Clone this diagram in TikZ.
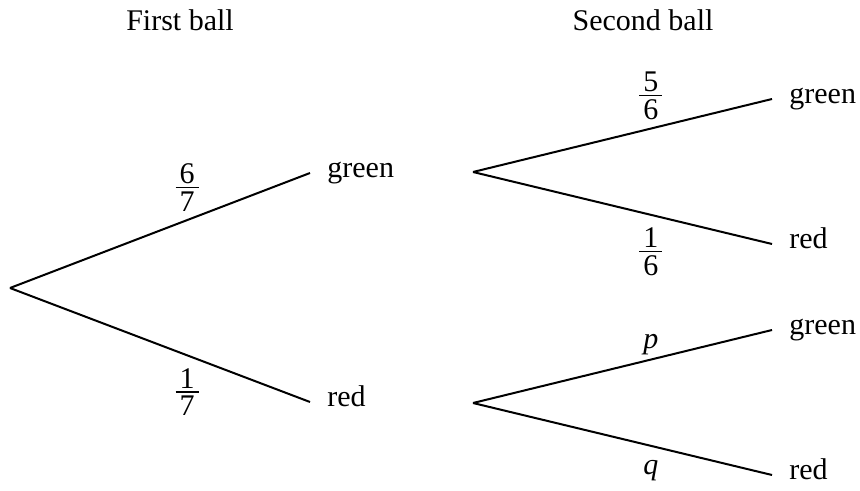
\documentclass[tikz,border=0pt]{standalone}
\usepackage{fontspec}
\setmainfont{Liberation Serif}
\usepackage{tikz}
\newcommand{\ballfrac}[2]{%
    \vbox{\halign{\hfil\kern2pt##\kern2pt\hfil\cr
        #1\cr
        \noalign{\kern1.6pt\hrule height0.8pt\kern1.6pt}
        #2\cr}}}
\tikzset{
    tree/branch/.style={
        draw=black, line width=1pt
    },
    tree/leaf/.style={
        anchor=mid west, inner xsep=8.5pt, inner ysep=2pt
    },
    tree/prob/.style={
        inner sep=4pt
    },
    tree/prob below/.style={
        tree/prob, below, inner sep=6pt
    },
    tree/heading/.style={
        anchor=base, inner sep=0pt
    }
}

\begin{document}
\begin{tikzpicture}[x=0.5pt, y=-0.5pt, font=\fontsize{15}{18}\selectfont]
    \useasboundingbox (0,0) rectangle (860,491);

    \node[tree/heading] (firstball) at (180,31) {First ball};
    \node[tree/heading] (secondball) at (643,31) {Second ball};

    \coordinate (start) at (10,288);
    \node[tree/leaf] (green) at (310,173) {green};
    \node[tree/leaf] (red) at (310,402) {red};
    \coordinate (greensplit) at (473,172);
    \coordinate (redsplit) at (473,403);
    \node[tree/leaf] (greengreen) at (772,99) {green};
    \node[tree/leaf] (greenred) at (772,244) {red};
    \node[tree/leaf] (redgreen) at (772,330) {green};
    \node[tree/leaf] (redred) at (772,475) {red};

    % first ball
    \draw[tree/branch] (start) --
        node[tree/prob, pos=0.59, above] (pgreen) {\ballfrac{6}{7}}
        (green.mid west);
    \draw[tree/branch] (start) --
        node[tree/prob below, pos=0.59] (pred) {\ballfrac{1}{7}}
        (red.mid west);

    % second ball
    \draw[tree/branch] (greensplit) --
        node[tree/prob, pos=0.595, above] (pgreengreen) {\ballfrac{5}{6}}
        (greengreen.mid west);
    \draw[tree/branch] (greensplit) --
        node[tree/prob below, pos=0.595] (pgreenred) {\ballfrac{1}{6}}
        (greenred.mid west);
    \draw[tree/branch] (redsplit) --
        node[tree/prob, pos=0.595, above, inner sep=2pt] (predgreen) {\textit{p}}
        (redgreen.mid west);
    \draw[tree/branch] (redsplit) --
        node[tree/prob below, pos=0.595, inner sep=7pt] (predred) {\textit{q}}
        (redred.mid west);
\end{tikzpicture}
\end{document}
